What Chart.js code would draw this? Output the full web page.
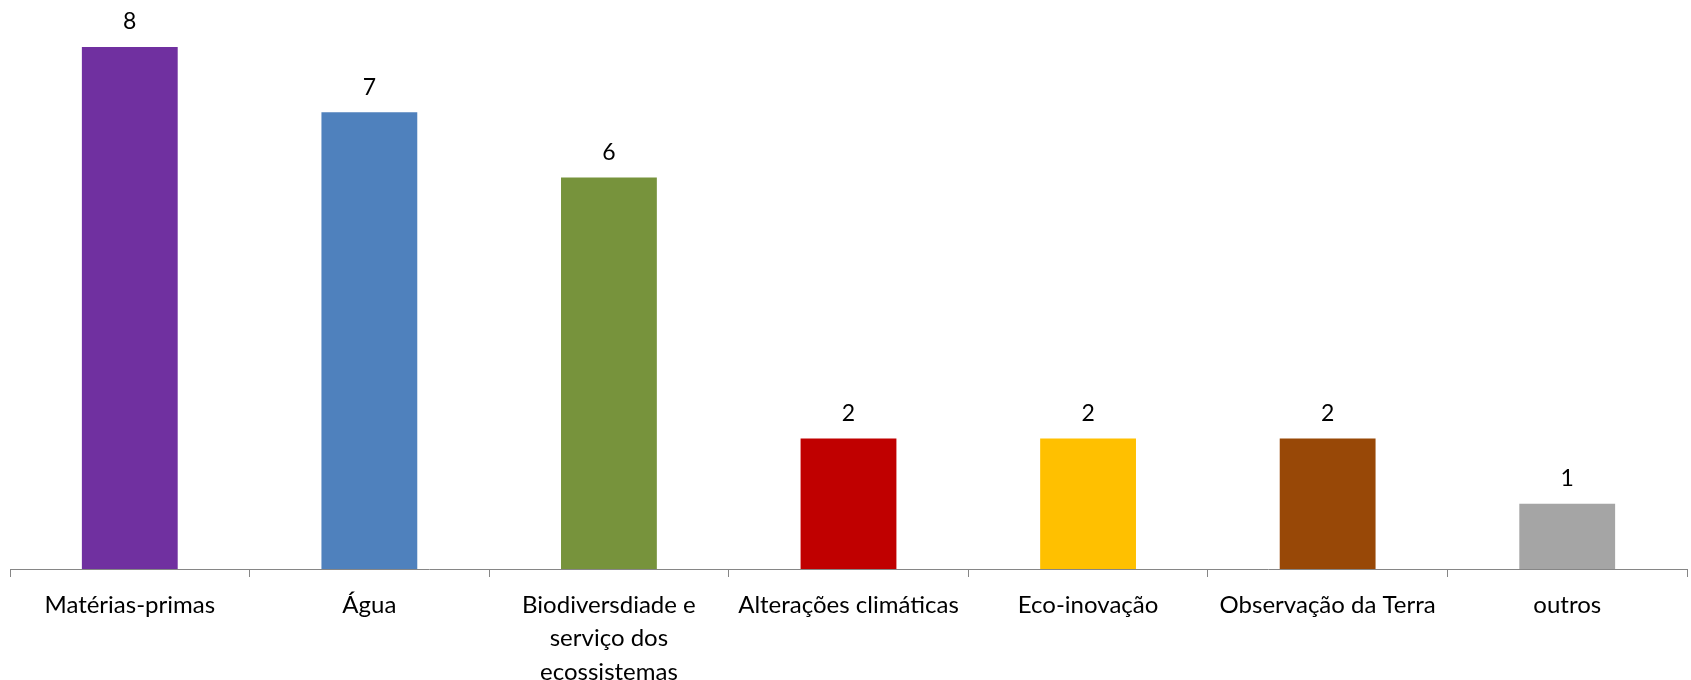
<!DOCTYPE html>
<html>
<head>
<meta charset="utf-8">
<script src="https://cdn.jsdelivr.net/npm/chart.js@4"></script>
<style>
    html, body { margin: 0; padding: 0; background: #ffffff; }
    #wrap { width: 1691px; height: 680px; }
</style>
</head>
<body>
<div id="wrap"><canvas id="chart"></canvas></div>
<script>
// categories and values
const categories = [
    "Matérias-primas",
    "Água",
    ["Biodiversdiade e", "serviço dos", "ecossistemas"],
    "Alterações climáticas",
    "Eco-inovação",
    "Observação da Terra",
    "outros"
];
const values = [8, 7, 6, 2, 2, 2, 1];
const barColors = ["#7030A0", "#4F81BD", "#77933C", "#C00000", "#FFC000", "#984807", "#A5A5A5"];

const labelFont = "Lato, 'Liberation Sans', sans-serif";

// draws the value above each bar
const valueLabels = {
    id: "valueLabels",
    afterDatasetsDraw(chart) {
        let ctx = chart.ctx;
        let meta = chart.getDatasetMeta(0);
        ctx.save();
        ctx.fillStyle = "#000000";
        ctx.font = "23px " + labelFont;
        ctx.textAlign = "center";
        ctx.textBaseline = "middle";
        meta.data.forEach((bar, i) => {
            ctx.fillText(values[i], bar.x, bar.y - 25);
        });
        ctx.restore();
    }
};

new Chart(document.getElementById("chart").getContext("2d"), {
    type: "bar",
    data: {
        labels: categories,
        datasets: [
            {
                data: values,
                backgroundColor: barColors,
                barPercentage: 0.4,
                categoryPercentage: 1
            }
        ]
    },
    options: {
        responsive: true,
        maintainAspectRatio: false,
        animation: false,
        layout: {
            padding: { top: 47, left: 10, right: 4, bottom: 0 }
        },
        plugins: {
            legend: { display: false },
            tooltip: { enabled: false }
        },
        scales: {
            x: {
                grid: {
                    offset: true,
                    drawOnChartArea: false,
                    drawTicks: true,
                    tickLength: 8,
                    color: "#868686"
                },
                border: { display: true, color: "#868686", width: 1 },
                ticks: {
                    color: "#000000",
                    font: { family: labelFont, size: 24, lineHeight: 1.38 },
                    maxRotation: 0,
                    autoSkip: false,
                    padding: 12
                },
                afterFit(scale) {
                    scale.height = 111;
                }
            },
            y: {
                display: false,
                min: 0,
                max: 8
            }
        }
    },
    plugins: [valueLabels]
});
</script>
</body>
</html>
